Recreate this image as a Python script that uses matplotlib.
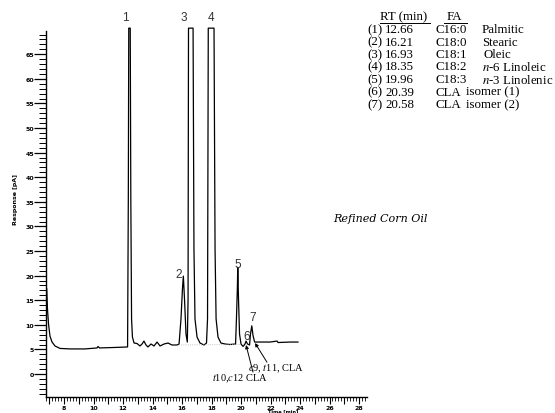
import numpy as np
import matplotlib
matplotlib.use("Agg")
import matplotlib.pyplot as plt
from matplotlib.ticker import MultipleLocator, FuncFormatter

plt.rcParams['mathtext.fontset'] = 'stix'

# ==========================================
# DATA
# ==========================================
time_min = [6.83, 6.88, 6.95, 7.05, 7.19, 7.39, 7.73, 8.41, 9.42, 10.24, 10.31, 10.41,
            11.46, 12.31, 12.36, 12.39, 12.42, 12.49, 12.53, 12.58, 12.64, 12.75, 12.95,
            13.15, 13.29, 13.42, 13.56, 13.69, 13.90, 14.10, 14.31, 14.51, 14.78, 15.05,
            15.32, 15.66, 15.80, 15.93, 16.03, 16.09, 16.17, 16.27, 16.36, 16.41, 16.44,
            16.75, 16.81, 16.88, 17.02, 17.22, 17.49, 17.66, 17.73, 17.78, 18.17, 18.24,
            18.31, 18.44, 18.64, 18.92, 19.25, 19.63, 19.69, 19.75, 19.78, 19.83, 19.90,
            20.00, 20.14, 20.27, 20.34, 20.44, 20.58, 20.64, 20.73, 20.81, 20.92, 21.29,
            21.97, 22.44, 22.51, 23.32, 23.86]
response_pA = [17.3, 13.2, 10.2, 7.7, 6.5, 5.7, 5.2, 5.1, 5.1, 5.3, 5.6, 5.3,
               5.4, 5.5, 35.6, 70.3, 70.3, 70.3, 35.6, 11.2, 7.5, 6.3, 6.2,
               5.7, 6.1, 6.7, 5.9, 5.5, 6.1, 5.7, 6.5, 5.7, 6.1, 6.3,
               5.9, 5.9, 6.1, 11.2, 17.3, 19.9, 15.2, 8.1, 6.5, 15.2, 70.3,
               70.3, 25.4, 11.2, 7.5, 6.3, 5.9, 6.3, 11.2, 70.3, 70.3, 25.4,
               11.2, 7.5, 6.3, 6.1, 6.0, 6.1, 11.2, 17.3, 21.7, 15.2, 8.1,
               6.1, 5.6, 6.1, 6.7, 6.1, 5.9, 8.1, 9.8, 7.9, 6.5, 6.5,
               6.5, 6.7, 6.4, 6.5, 6.5]

# peak numbers and where they are written (time, response)
peak_ids = ['1', '2', '3', '4', '5', '6', '7']
peak_label_t = [12.14, 15.80, 16.14, 17.97, 19.77, 20.37, 20.81]
peak_label_y = [72.6, 20.3, 72.6, 72.6, 22.4, 7.8, 11.5]

# table of retention times
rt_nums = ['(1)', '(2)', '(3)', '(4)', '(5)', '(6)', '(7)']
rt_vals = ['12.66', '16.21', '16.93', '18.35', '19.96', '20.39', '20.58']
fa_codes = ['C16:0', 'C18:0', 'C18:1', 'C18:2', 'C18:3', 'CLA', 'CLA']
fa_names = ['Palmitic', 'Stearic', 'Oleic', '$n$-6 Linoleic', '$n$-3 Linolenic',
            'isomer (1)', 'isomer (2)']

W, H = 555, 414


def fx(px):
    return px / W


def fy(py):
    return 1 - py / H


fig = plt.figure(figsize=(W / 100, H / 100), dpi=100, facecolor='white')
ax = fig.add_axes([fx(46), fy(398), (367 - 46) / W, (398 - 32) / H])

# trace
ax.plot(time_min, response_pA, color='black', linewidth=0.9, clip_on=False)
# faint integration baseline
ax.plot([15.8, 20.0], [5.9, 6.0], color='#b0b0b0', linewidth=0.6, linestyle=':')

ax.set_xlim(6.78, 28.54)
ax.set_ylim(-4.67, 69.72)

for s in ['top', 'right']:
    ax.spines[s].set_visible(False)
for s in ['left', 'bottom']:
    ax.spines[s].set_linewidth(1.0)

ax.xaxis.set_major_locator(MultipleLocator(1))
ax.xaxis.set_minor_locator(MultipleLocator(0.2))
ax.xaxis.set_major_formatter(FuncFormatter(lambda v, p: f"{v:.0f}" if round(v) % 2 == 0 else ""))
ax.yaxis.set_major_locator(MultipleLocator(5))
ax.yaxis.set_minor_locator(MultipleLocator(1))
ax.yaxis.set_major_formatter(FuncFormatter(lambda v, p: f"{v:.0f}" if v >= 0 else ""))

ax.tick_params(axis='x', which='major', length=5, width=0.8, pad=1, labelsize=4.5)
ax.tick_params(axis='x', which='minor', length=2.8, width=0.6)
ax.tick_params(axis='y', which='major', length=8.5, width=0.9, pad=0, labelsize=4.5)
ax.tick_params(axis='y', which='minor', length=5, width=0.7)
for lab in ax.get_xticklabels() + ax.get_yticklabels():
    lab.set_fontweight('bold')

fig.text(fx(15), fy(200), 'Response [pA]', rotation=90, fontsize=4.5, fontweight='bold',
         ha='center', va='center')
fig.text(fx(283), fy(411.8), 'Time [min]', fontsize=3.6, fontweight='bold',
         ha='center', va='center')

# peak numbers
for pid, t, y in zip(peak_ids, peak_label_t, peak_label_y):
    ax.text(t, y, pid, fontsize=8.5, color='#333333', family='Liberation Sans',
            ha='center', va='center', clip_on=False)

# CLA isomer arrows
arrow = dict(arrowstyle='-|>', color='black', linewidth=0.7, mutation_scale=5,
             shrinkA=0, shrinkB=0)
ax.annotate('', xy=(20.34, 5.9), xytext=(20.81, 0.4), arrowprops=arrow)
ax.annotate('', xy=(20.95, 6.3), xytext=(21.76, 2.4), arrowprops=arrow)
ax.text(19.93, -0.8, '$t$10,$c$12 CLA', fontsize=7.5, family='Liberation Serif',
        ha='center', va='center')
ax.text(20.47, 1.2, '$c$9, $t$11, CLA', fontsize=7.5, family='Liberation Serif',
        ha='left', va='center')

# retention time table
serif = dict(fontsize=9.3, family='Liberation Serif', va='center')
fig.text(fx(380), fy(17), 'RT (min)', ha='left', **serif)
fig.text(fx(447), fy(17), 'FA', ha='left', **serif)
fig.add_artist(plt.Line2D([fx(380), fx(430)], [fy(24), fy(24)], color='black', linewidth=0.7))
fig.add_artist(plt.Line2D([fx(444), fx(467)], [fy(24), fy(24)], color='black', linewidth=0.7))
for i in range(len(rt_nums)):
    yy = fy(30 + i * 12.5)
    fig.text(fx(367), yy, rt_nums[i], ha='left', **serif)
    fig.text(fx(385), yy, rt_vals[i], ha='left', **serif)
    fig.text(fx(435), yy, fa_codes[i], ha='left', **serif)
    name_x = 466 if fa_codes[i] == 'CLA' else (484 if fa_names[i] == 'Oleic' else 482)
    fig.text(fx(name_x), yy, fa_names[i], ha='left', **serif)

fig.text(fx(333), fy(219), 'Refined Corn Oil', fontsize=8, family='DejaVu Serif',
         style='italic', ha='left', va='center')

fig.savefig('out.png', dpi=100, facecolor='white')
